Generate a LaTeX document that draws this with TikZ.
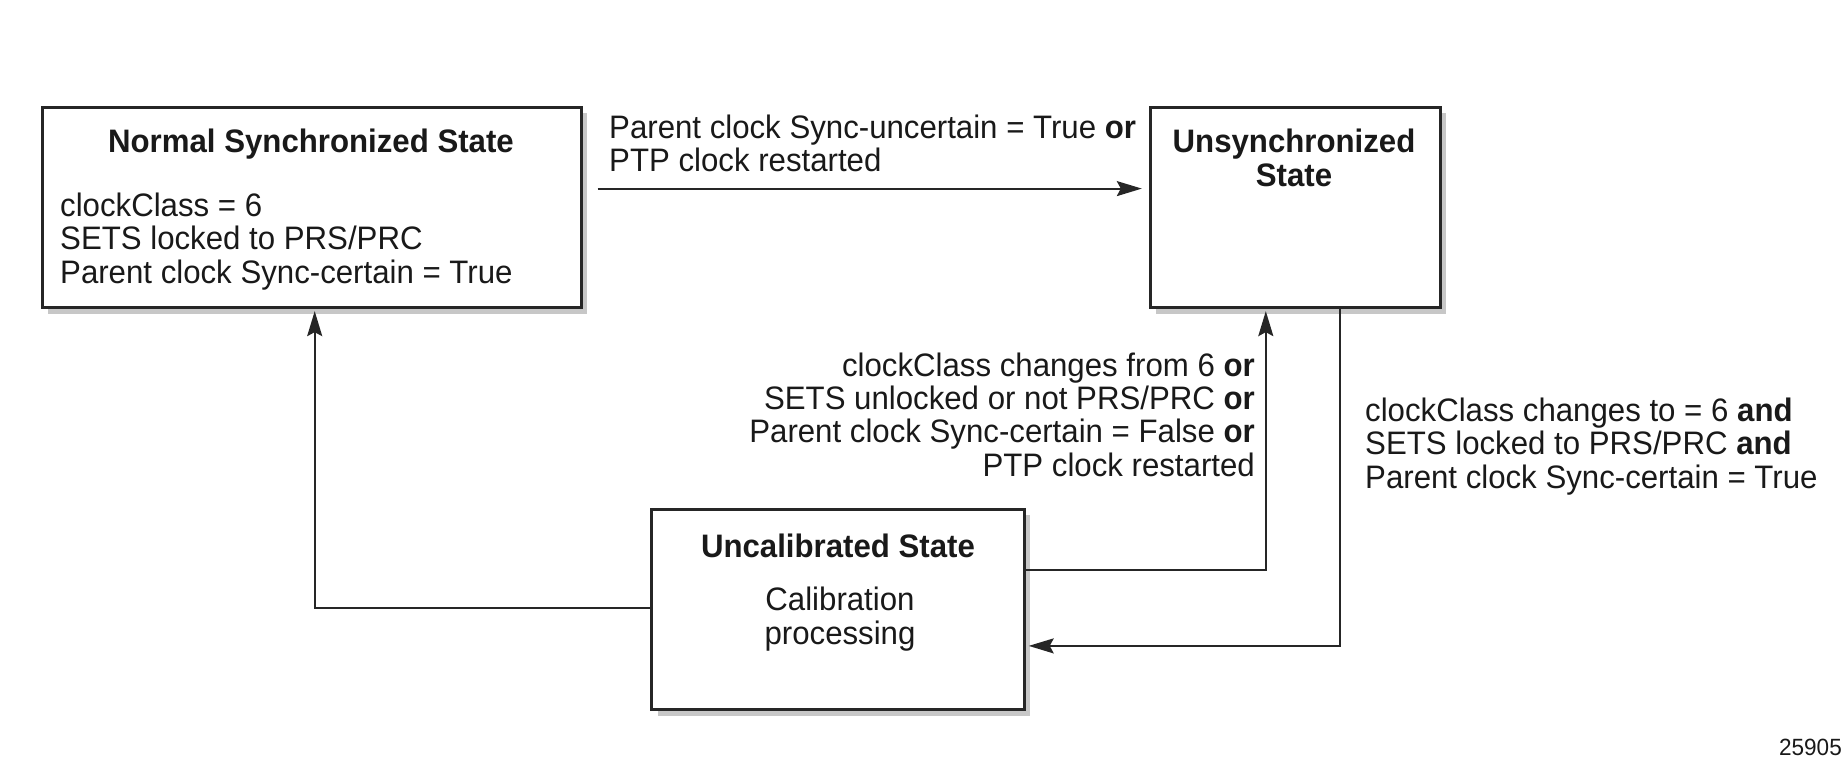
\documentclass[tikz,border=0pt]{standalone}
\usepackage{fontspec}
\setmainfont{Liberation Sans}[FakeStretch=0.96]
\usetikzlibrary{arrows.meta,shadows,calc}
\begin{document}
\begin{tikzpicture}[x=1pt,y=-1pt,
  statebox/.style={draw=black!85, line width=3pt, fill=white, minimum width=#1,
    minimum height=200.3pt, inner sep=0pt,
    drop shadow={shadow xshift=6pt, shadow yshift=-6pt, fill=black!22, opacity=1}},
  txt/.style={font=\fontsize{32.5}{33.4}\selectfont, inner sep=0pt, text=black!90},
  btxt/.style={font=\fontsize{32.5}{33.4}\selectfont\bfseries, inner sep=0pt, text=black!90},
  small/.style={font=\fontsize{23.5}{26}\selectfont, inner sep=0pt, text=black!90},
  conn/.style={draw=black!85, line width=2pt, -{Stealth[length=25pt,width=15pt,inset=4pt]}}
]
\useasboundingbox (0,0) rectangle (1848,765);

% state boxes
\node[statebox=538.6pt] (A) at (311.7,207.5) {};
\node[statebox=289.9pt] (B) at (1295.25,207.5) {};
\node[statebox=372.4pt] (C) at (838,609.35) {};

% box texts
\node[btxt] (Atitle) at (311,144) {Normal Synchronized State};
\node[txt, align=left, anchor=west] (Abody) at (60,241.5) {clockClass = 6\\SETS locked to PRS/PRC\\Parent clock Sync-certain = True};
\node[btxt, align=center] (Btitle) at (1294,158) {Unsynchronized\\State};
\node[btxt] (Ctitle) at (838,545.5) {Uncalibrated State};
\node[txt, align=center] (Cbody) at (840,619) {Calibration\\processing};

% connectors
\coordinate (ab) at (597.6,188.6);
\draw[conn, shorten >=7pt] (ab) -- (ab -| B.west);

\coordinate (ca) at (314.7,608);
\draw[conn, shorten >=2pt] (ca -| C.west) -- (ca) -- (ca |- A.south);

\coordinate (cb) at (1265.8,570.4);
\draw[conn, shorten >=2pt] (cb -| C.east) -- (cb) -- (cb |- B.south);

\coordinate (bc) at (1340.1,645.9);
\draw[conn, shorten >=3pt] (bc |- B.south) -- (bc) -- (bc -| C.east);

% connector labels
\node[txt, align=left, anchor=west] (lab1) at (609,143.5) {Parent clock Sync-uncertain = True \textbf{or}\\PTP clock restarted};
\node[txt, align=right, anchor=east] (lab2) at (1255,414.5) {clockClass changes from 6 \textbf{or}\\SETS unlocked or not PRS/PRC \textbf{or}\\Parent clock Sync-certain = False \textbf{or}\\PTP clock restarted};
\node[txt, align=left, anchor=west] (lab3) at (1365,446.5) {clockClass changes to = 6 \textbf{and}\\SETS locked to PRS/PRC \textbf{and}\\Parent clock Sync-certain = True};

\node[small, anchor=east] (fig) at (1842,747) {25905};
\end{tikzpicture}
\end{document}
